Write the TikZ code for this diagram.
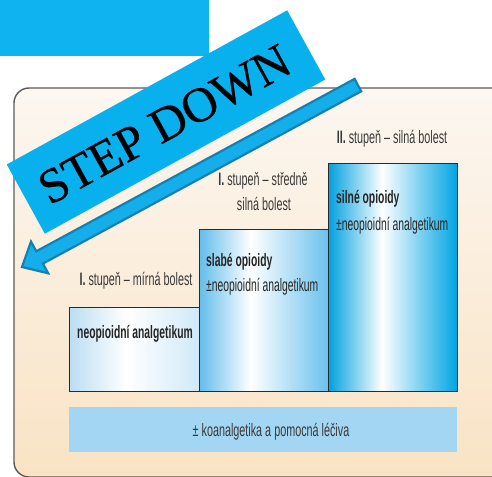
\documentclass[tikz,border=0pt]{standalone}
\usepackage{fontspec}
\newfontfamily\cond[FakeStretch=0.6]{Liberation Sans}
\newfontfamily\condb[FakeStretch=0.575]{Liberation Sans}
\newfontfamily\bannerfont[FakeBold=0.6]{Liberation Serif}
\definecolor{topblue}{HTML}{0FB3EF}
\definecolor{bannerblue}{HTML}{08B0EE}
\definecolor{arrowfill}{HTML}{14AEEA}
\definecolor{arrowline}{HTML}{1481B4}
\definecolor{panelTop}{HTML}{FCF7F1}
\definecolor{panelBot}{HTML}{F9E3C4}
\definecolor{panelline}{HTML}{5A5A5A}
\definecolor{boxline}{HTML}{2A2A2A}
\definecolor{barblue}{HTML}{A2D6F2}
\definecolor{labgray}{HTML}{3A3A3A}
\definecolor{bAl}{HTML}{BBDDF3}
\definecolor{bAr}{HTML}{D0E9F8}
\definecolor{bBl}{HTML}{62BDEB}
\definecolor{bBr}{HTML}{6BC2EE}
\definecolor{bCl}{HTML}{00A0DE}
\definecolor{bCr}{HTML}{00A5E3}
\pgfdeclarehorizontalshading{shadeA}{100bp}{color(0bp)=(bAl); color(25bp)=(bAl); color(47bp)=(white); color(75bp)=(bAr); color(100bp)=(bAr)}
\pgfdeclarehorizontalshading{shadeB}{100bp}{color(0bp)=(bBl); color(25bp)=(bBl); color(45bp)=(white); color(75bp)=(bBr); color(100bp)=(bBr)}
\pgfdeclarehorizontalshading{shadeC}{100bp}{color(0bp)=(bCl); color(25bp)=(bCl); color(46bp)=(white); color(75bp)=(bCr); color(100bp)=(bCr)}
\tikzset{
  stepbox/.style={draw=boxline, line width=1pt, inner sep=0pt, outer sep=0pt},
  lab/.style={font=\cond\fontsize{18}{25}\selectfont, text=labgray, inner sep=0pt, anchor=base},
  boxtxt/.style={font=\condb\fontsize{18}{25}\selectfont, text=black!85, inner sep=0pt, anchor=base west},
}
\begin{document}
\begin{tikzpicture}[x=1pt,y=-1pt]
\useasboundingbox (0,0) rectangle (492,476);
\clip (0,0) rectangle (492,476);
% top-left blue block
\fill[topblue] (0,0) rectangle (209,56);
% panel
\draw[panelline, line width=1.4pt, top color=panelTop, bottom color=panelBot, rounded corners=15pt] (14,88) rectangle (530,477);
% step boxes
\node[stepbox, shading=shadeA, minimum width=130, minimum height=84] (b1) at (134,349) {};
\node[stepbox, shading=shadeB, minimum width=129, minimum height=162] (b2) at (263.5,310) {};
\node[stepbox, shading=shadeC, minimum width=129, minimum height=228] (b3) at (392.5,277) {};
% bottom bar
\node[fill=barblue, minimum width=388, minimum height=45, inner sep=0pt] (bar) at (263,429.5) {};
\node[lab] (bartxt) at (271,436.5) {± koanalgetika a pomocná léčiva};
% labels
\node[lab] (l1) at (136,285) {\textbf{I.} stupeň – mírná bolest};
\node[lab] (l2a) at (263,185) {\textbf{I.} stupeň – středně};
\node[lab] (l2b) at (264,210.5) {silná bolest};
\node[lab] (l3) at (392,143) {\textbf{II.} stupeň – silná bolest};
% box texts
\node[boxtxt] (t1) at (77,338) {\textbf{neopioidní analgetikum}};
\node[boxtxt] (t2a) at (206,266.5) {\textbf{slabé opioidy}};
\node[boxtxt] (t2b) at (206,291.5) {±neopioidní analgetikum};
\node[boxtxt] (t3a) at (336,203) {\textbf{silné opioidy}};
\node[boxtxt] (t3b) at (336,230) {±neopioidní analgetikum};
% step-down arrow
\draw[fill=arrowfill, draw=arrowline, line width=2.2pt, line join=miter]
  (22,267) -- (31.0,241.6) -- (36.3,251.3) -- (354.6,78.9) -- (361.2,91.3)
  -- (42.9,263.6) -- (48.2,273.3) -- cycle;
% banner
\node[fill=bannerblue, minimum width=320, minimum height=79, rotate=28.8, inner sep=0pt] (banner) at (166,122) {};
\node[rotate=28.8, inner sep=0pt, font=\bannerfont\fontsize{49}{49}\selectfont, text=black] (bannertxt) at (164.5,124.5) {STEP DOWN};
\end{tikzpicture}
\end{document}
